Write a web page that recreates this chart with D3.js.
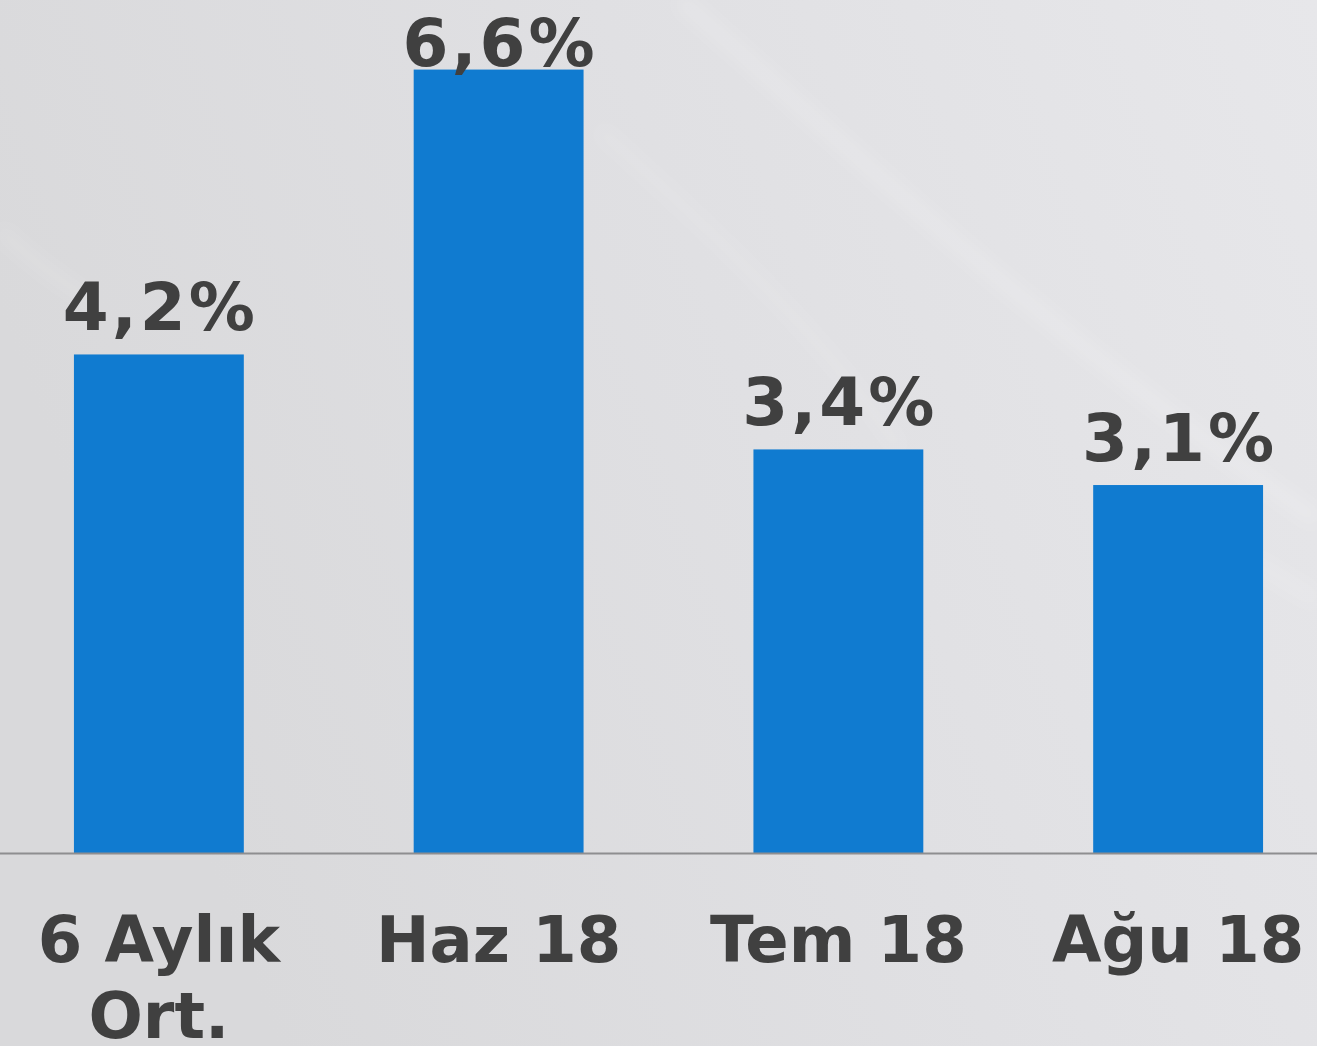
<!DOCTYPE html>
<html>
<head>
<meta charset="utf-8">
<script src="https://cdn.jsdelivr.net/npm/d3@7"></script>
<style>
html,body{margin:0;padding:0;overflow:hidden;background:#e0e0e2;}
svg{display:block;}
</style>
</head>
<body>
<svg id="chart" width="1317" height="1046"></svg>
<script>
const categories = [["6 Aylık", "Ort."], ["Haz 18"], ["Tem 18"], ["Ağu 18"]];
const values = [4.2, 6.6, 3.4, 3.1];
const valueLabels = ["4,2%", "6,6%", "3,4%", "3,1%"];

const W = 1317, H = 1046;
const baseY = 853;
const svg = d3.select("#chart");

// background
const defs = svg.append("defs");
const g1 = defs.append("linearGradient").attr("id", "bg").attr("x1", "0").attr("y1", "0.3").attr("x2", "1").attr("y2", "0");
g1.append("stop").attr("offset", "0").attr("stop-color", "#d9d9db");
g1.append("stop").attr("offset", "0.5").attr("stop-color", "#e0e0e3");
g1.append("stop").attr("offset", "1").attr("stop-color", "#e7e7ea");
defs.append("filter").attr("id", "blur").append("feGaussianBlur").attr("stdDeviation", 8);
svg.append("rect").attr("width", W).attr("height", H).attr("fill", "url(#bg)");
const streaks = svg.append("g").attr("filter", "url(#blur)").attr("stroke", "#ffffff").attr("fill", "none");
streaks.append("path").attr("d", "M680,0 C820,120 1000,300 1317,520").attr("stroke-width", 14).attr("stroke-opacity", 0.18);
streaks.append("path").attr("d", "M600,130 C700,220 820,330 900,450").attr("stroke-width", 12).attr("stroke-opacity", 0.1);
streaks.append("path").attr("d", "M0,230 C30,260 60,280 90,300").attr("stroke-width", 10).attr("stroke-opacity", 0.15);
streaks.append("path").attr("d", "M1250,560 L1317,600").attr("stroke-width", 14).attr("stroke-opacity", 0.15);

const x = d3.scaleBand()
  .domain(d3.range(categories.length))
  .range([-11, 1348])
  .paddingInner(0.5)
  .paddingOuter(0.25);

const y = d3.scaleLinear().domain([0, 7]).range([baseY, baseY - 7 * 118.7]);

svg.append("g").selectAll("rect").data(values).join("rect")
  .attr("x", (d, i) => x(i))
  .attr("width", x.bandwidth())
  .attr("y", d => y(d))
  .attr("height", d => baseY - y(d))
  .attr("fill", "#107bd0");

// baseline
svg.append("line").attr("x1", 0).attr("x2", W).attr("y1", baseY + 0.5).attr("y2", baseY + 0.5)
  .attr("stroke", "#8e8e90").attr("stroke-width", 2);

// value labels
svg.append("g").selectAll("text").data(values).join("text")
  .attr("x", (d, i) => x(i) + x.bandwidth() / 2 + 1.5)
  .attr("y", d => Math.max(y(d) - 24, 66))
  .attr("text-anchor", "middle")
  .attr("font-family", "DejaVu Sans")
  .attr("font-weight", "bold")
  .attr("font-size", 66)
  .attr("letter-spacing", 3)
  .attr("fill", "#404040")
  .text((d, i) => valueLabels[i]);

// category labels
const cat = svg.append("g").selectAll("text").data(categories).join("text")
  .attr("x", (d, i) => x(i) + x.bandwidth() / 2)
  .attr("y", 962)
  .attr("text-anchor", "middle")
  .attr("font-family", "DejaVu Sans")
  .attr("font-weight", "bold")
  .attr("font-size", 64)
  .attr("fill", "#404040");
cat.selectAll("tspan").data((d, i) => d.map(t => ({t, i}))).join("tspan")
  .attr("x", d => x(d.i) + x.bandwidth() / 2)
  .attr("dy", (d, j) => j === 0 ? 0 : 76)
  .text(d => d.t);
</script>
</body>
</html>
